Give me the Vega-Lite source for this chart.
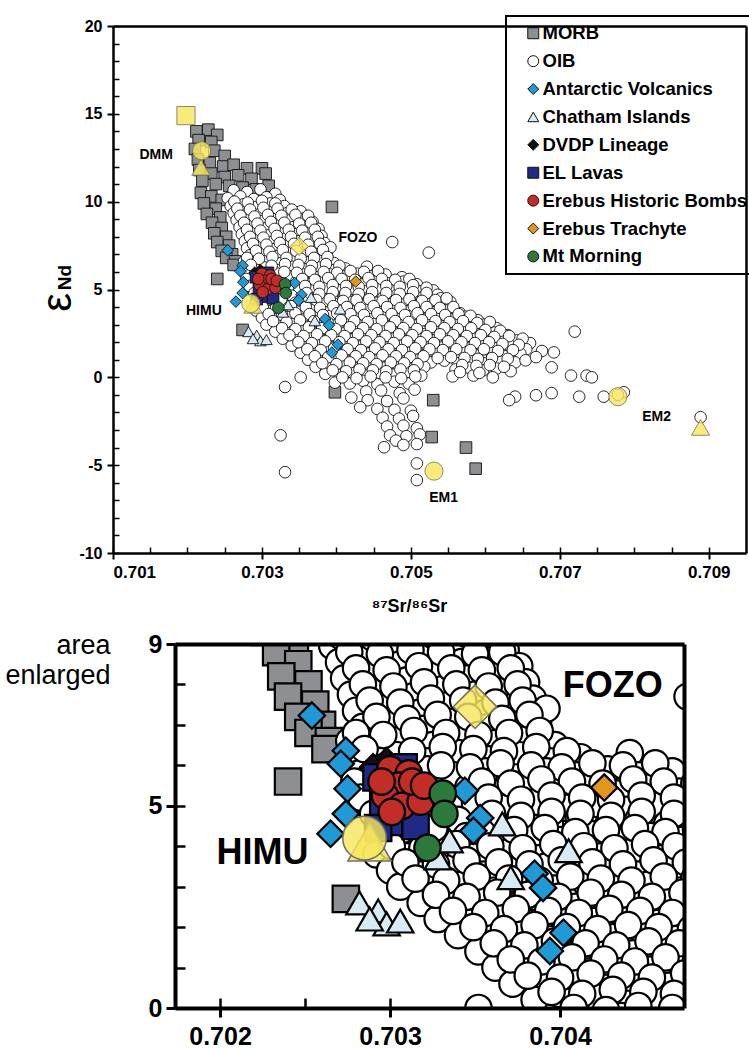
{
 "$schema": "https://vega.github.io/schema/vega-lite/v6.json",
 "background": "white",
 "padding": {"left": 4, "top": 15, "right": 0, "bottom": 5},
 "config": {
  "font": "Liberation Sans",
  "view": {"stroke": null},
  "axis": {"grid": false, "labelColor": "black", "titleColor": "black", "tickColor": "black", "domainColor": "black", "labelFont": "Liberation Sans", "titleFont": "Liberation Sans", "labelFontWeight": "bold", "titleFontWeight": "bold"},
  "legend": {"strokeWidth": 2}
 },
 "datasets": {
  "pts": [
   {"group":"MORB","sr":0.70212,"nd":14.0},{"group":"MORB","sr":0.70228,"nd":14.1},{"group":"MORB","sr":0.70240,"nd":13.8},{"group":"MORB","sr":0.70215,"nd":13.5},{"group":"MORB","sr":0.70232,"nd":13.4},{"group":"MORB","sr":0.70210,"nd":13.0},{"group":"MORB","sr":0.70236,"nd":12.9},{"group":"MORB","sr":0.70250,"nd":12.6},{"group":"MORB","sr":0.70214,"nd":12.4},{"group":"MORB","sr":0.70230,"nd":12.2},{"group":"MORB","sr":0.70248,"nd":12.0},{"group":"MORB","sr":0.70262,"nd":12.1},{"group":"MORB","sr":0.70280,"nd":11.9},{"group":"MORB","sr":0.70300,"nd":11.9},{"group":"MORB","sr":0.70216,"nd":11.8},{"group":"MORB","sr":0.70232,"nd":11.6},{"group":"MORB","sr":0.70250,"nd":11.4},{"group":"MORB","sr":0.70268,"nd":11.5},{"group":"MORB","sr":0.70286,"nd":11.3},{"group":"MORB","sr":0.70305,"nd":11.6},{"group":"MORB","sr":0.70220,"nd":11.2},{"group":"MORB","sr":0.70238,"nd":11.0},{"group":"MORB","sr":0.70256,"nd":10.9},{"group":"MORB","sr":0.70274,"nd":10.8},{"group":"MORB","sr":0.70292,"nd":10.7},{"group":"MORB","sr":0.70309,"nd":10.9},{"group":"MORB","sr":0.70218,"nd":10.5},{"group":"MORB","sr":0.70232,"nd":10.3},{"group":"MORB","sr":0.70246,"nd":10.1},{"group":"MORB","sr":0.70222,"nd":9.9},{"group":"MORB","sr":0.70238,"nd":9.6},{"group":"MORB","sr":0.70226,"nd":9.3},{"group":"MORB","sr":0.70244,"nd":9.1},{"group":"MORB","sr":0.70233,"nd":8.8},{"group":"MORB","sr":0.70246,"nd":8.5},{"group":"MORB","sr":0.70236,"nd":8.2},{"group":"MORB","sr":0.70252,"nd":8.0},{"group":"MORB","sr":0.70240,"nd":7.7},{"group":"MORB","sr":0.70256,"nd":7.5},{"group":"MORB","sr":0.70246,"nd":7.2},{"group":"MORB","sr":0.70260,"nd":7.0},{"group":"MORB","sr":0.70252,"nd":6.8},{"group":"MORB","sr":0.70264,"nd":6.6},{"group":"MORB","sr":0.70262,"nd":6.4},{"group":"MORB","sr":0.70345,"nd":9.1},{"group":"MORB","sr":0.70394,"nd":9.7},{"group":"MORB","sr":0.70387,"nd":7.1},{"group":"MORB","sr":0.70240,"nd":5.6},{"group":"MORB","sr":0.70274,"nd":2.7},{"group":"MORB","sr":0.70398,"nd":-0.85},{"group":"MORB","sr":0.70413,"nd":0.28},{"group":"MORB","sr":0.70530,"nd":-1.3},{"group":"MORB","sr":0.70528,"nd":-3.4},{"group":"MORB","sr":0.70574,"nd":-4.0},{"group":"MORB","sr":0.70587,"nd":-5.2},
   {"group":"OIB","sr":0.70262,"nd":10.65},{"group":"OIB","sr":0.70280,"nd":10.55},{"group":"OIB","sr":0.70298,"nd":10.7},{"group":"OIB","sr":0.70318,"nd":10.45},
   {"group":"OIB","sr":0.70254,"nd":10.2},{"group":"OIB","sr":0.70271,"nd":10.3},{"group":"OIB","sr":0.70289,"nd":10.15},{"group":"OIB","sr":0.70306,"nd":10.25},{"group":"OIB","sr":0.70324,"nd":10.1},
   {"group":"OIB","sr":0.70258,"nd":9.75},{"group":"OIB","sr":0.70275,"nd":9.85},{"group":"OIB","sr":0.70293,"nd":9.7},{"group":"OIB","sr":0.70311,"nd":9.9},{"group":"OIB","sr":0.70330,"nd":9.75},
   {"group":"OIB","sr":0.70262,"nd":9.35},{"group":"OIB","sr":0.70279,"nd":9.45},{"group":"OIB","sr":0.70297,"nd":9.3},{"group":"OIB","sr":0.70315,"nd":9.5},{"group":"OIB","sr":0.70334,"nd":9.35},{"group":"OIB","sr":0.70352,"nd":9.45},
   {"group":"OIB","sr":0.70266,"nd":8.95},{"group":"OIB","sr":0.70284,"nd":9.05},{"group":"OIB","sr":0.70301,"nd":8.9},{"group":"OIB","sr":0.70320,"nd":9.1},{"group":"OIB","sr":0.70338,"nd":8.95},{"group":"OIB","sr":0.70357,"nd":9.05},{"group":"OIB","sr":0.70368,"nd":8.85},
   {"group":"OIB","sr":0.70270,"nd":8.55},{"group":"OIB","sr":0.70288,"nd":8.65},{"group":"OIB","sr":0.70306,"nd":8.5},{"group":"OIB","sr":0.70324,"nd":8.7},{"group":"OIB","sr":0.70342,"nd":8.55},{"group":"OIB","sr":0.70361,"nd":8.65},{"group":"OIB","sr":0.70376,"nd":8.45},
   {"group":"OIB","sr":0.70273,"nd":8.15},{"group":"OIB","sr":0.70291,"nd":8.25},{"group":"OIB","sr":0.70310,"nd":8.1},{"group":"OIB","sr":0.70328,"nd":8.3},{"group":"OIB","sr":0.70346,"nd":8.15},{"group":"OIB","sr":0.70365,"nd":8.25},{"group":"OIB","sr":0.70380,"nd":8.05},
   {"group":"OIB","sr":0.70277,"nd":7.75},{"group":"OIB","sr":0.70295,"nd":7.85},{"group":"OIB","sr":0.70313,"nd":7.7},{"group":"OIB","sr":0.70332,"nd":7.9},{"group":"OIB","sr":0.70350,"nd":7.75},{"group":"OIB","sr":0.70368,"nd":7.85},{"group":"OIB","sr":0.70384,"nd":7.65},
   {"group":"OIB","sr":0.70280,"nd":7.35},{"group":"OIB","sr":0.70299,"nd":7.45},{"group":"OIB","sr":0.70317,"nd":7.3},{"group":"OIB","sr":0.70335,"nd":7.5},{"group":"OIB","sr":0.70356,"nd":7.3},{"group":"OIB","sr":0.70372,"nd":7.45},
   {"group":"OIB","sr":0.70284,"nd":6.95},{"group":"OIB","sr":0.70302,"nd":7.05},{"group":"OIB","sr":0.70320,"nd":6.9},{"group":"OIB","sr":0.70339,"nd":7.1},{"group":"OIB","sr":0.70358,"nd":6.95},{"group":"OIB","sr":0.70376,"nd":7.05},
   {"group":"OIB","sr":0.70276,"nd":6.6},{"group":"OIB","sr":0.70290,"nd":6.55},{"group":"OIB","sr":0.70307,"nd":6.65},{"group":"OIB","sr":0.70325,"nd":6.5},{"group":"OIB","sr":0.70344,"nd":6.7},{"group":"OIB","sr":0.70362,"nd":6.55},{"group":"OIB","sr":0.70380,"nd":6.65},{"group":"OIB","sr":0.70397,"nd":6.5},
   {"group":"OIB","sr":0.70280,"nd":6.2},{"group":"OIB","sr":0.70304,"nd":6.25},{"group":"OIB","sr":0.70322,"nd":6.1},{"group":"OIB","sr":0.70340,"nd":6.3},{"group":"OIB","sr":0.70358,"nd":6.15},{"group":"OIB","sr":0.70376,"nd":6.25},{"group":"OIB","sr":0.70394,"nd":6.1},{"group":"OIB","sr":0.70412,"nd":6.2},{"group":"OIB","sr":0.70441,"nd":6.3},
   {"group":"OIB","sr":0.70282,"nd":5.8},{"group":"OIB","sr":0.70322,"nd":5.9},{"group":"OIB","sr":0.70338,"nd":5.75},{"group":"OIB","sr":0.70356,"nd":5.85},{"group":"OIB","sr":0.70374,"nd":5.7},{"group":"OIB","sr":0.70392,"nd":5.85},{"group":"OIB","sr":0.70410,"nd":5.75},{"group":"OIB","sr":0.70428,"nd":5.9},{"group":"OIB","sr":0.70446,"nd":5.75},{"group":"OIB","sr":0.70466,"nd":5.85},{"group":"OIB","sr":0.70488,"nd":5.7},
   {"group":"OIB","sr":0.70284,"nd":5.4},{"group":"OIB","sr":0.70346,"nd":5.45},{"group":"OIB","sr":0.70362,"nd":5.3},{"group":"OIB","sr":0.70380,"nd":5.45},{"group":"OIB","sr":0.70398,"nd":5.35},{"group":"OIB","sr":0.70416,"nd":5.5},{"group":"OIB","sr":0.70434,"nd":5.3},{"group":"OIB","sr":0.70452,"nd":5.45},{"group":"OIB","sr":0.70470,"nd":5.35},{"group":"OIB","sr":0.70490,"nd":5.45},{"group":"OIB","sr":0.70508,"nd":5.3},
   {"group":"OIB","sr":0.70288,"nd":5.0},{"group":"OIB","sr":0.70350,"nd":5.05},{"group":"OIB","sr":0.70368,"nd":4.95},{"group":"OIB","sr":0.70386,"nd":5.1},{"group":"OIB","sr":0.70404,"nd":4.95},{"group":"OIB","sr":0.70421,"nd":5.05},{"group":"OIB","sr":0.70439,"nd":4.9},{"group":"OIB","sr":0.70458,"nd":5.05},{"group":"OIB","sr":0.70476,"nd":4.95},{"group":"OIB","sr":0.70494,"nd":5.1},{"group":"OIB","sr":0.70512,"nd":4.9},{"group":"OIB","sr":0.70530,"nd":4.95},
   {"group":"OIB","sr":0.70296,"nd":4.55},{"group":"OIB","sr":0.70340,"nd":4.65},{"group":"OIB","sr":0.70358,"nd":4.5},{"group":"OIB","sr":0.70376,"nd":4.65},{"group":"OIB","sr":0.70394,"nd":4.55},{"group":"OIB","sr":0.70411,"nd":4.7},{"group":"OIB","sr":0.70428,"nd":4.5},{"group":"OIB","sr":0.70446,"nd":4.65},{"group":"OIB","sr":0.70463,"nd":4.55},{"group":"OIB","sr":0.70481,"nd":4.7},{"group":"OIB","sr":0.70499,"nd":4.5},{"group":"OIB","sr":0.70517,"nd":4.6},{"group":"OIB","sr":0.70536,"nd":4.7},
   {"group":"OIB","sr":0.70298,"nd":4.2},{"group":"OIB","sr":0.70316,"nd":4.15},{"group":"OIB","sr":0.70345,"nd":4.25},{"group":"OIB","sr":0.70364,"nd":4.1},{"group":"OIB","sr":0.70382,"nd":4.25},{"group":"OIB","sr":0.70400,"nd":4.15},{"group":"OIB","sr":0.70418,"nd":4.3},{"group":"OIB","sr":0.70436,"nd":4.1},{"group":"OIB","sr":0.70453,"nd":4.25},{"group":"OIB","sr":0.70471,"nd":4.15},{"group":"OIB","sr":0.70489,"nd":4.3},{"group":"OIB","sr":0.70506,"nd":4.1},{"group":"OIB","sr":0.70524,"nd":4.2},{"group":"OIB","sr":0.70542,"nd":4.05},{"group":"OIB","sr":0.70553,"nd":4.3},
   {"group":"OIB","sr":0.70292,"nd":3.8},{"group":"OIB","sr":0.70310,"nd":3.75},{"group":"OIB","sr":0.70328,"nd":3.9},{"group":"OIB","sr":0.70350,"nd":3.75},{"group":"OIB","sr":0.70369,"nd":3.85},{"group":"OIB","sr":0.70387,"nd":3.7},{"group":"OIB","sr":0.70405,"nd":3.9},{"group":"OIB","sr":0.70424,"nd":3.75},{"group":"OIB","sr":0.70441,"nd":3.85},{"group":"OIB","sr":0.70459,"nd":3.7},{"group":"OIB","sr":0.70477,"nd":3.85},{"group":"OIB","sr":0.70495,"nd":3.75},{"group":"OIB","sr":0.70512,"nd":3.9},{"group":"OIB","sr":0.70530,"nd":3.7},{"group":"OIB","sr":0.70548,"nd":3.8},{"group":"OIB","sr":0.70566,"nd":3.65},
   {"group":"OIB","sr":0.70300,"nd":3.4},{"group":"OIB","sr":0.70318,"nd":3.35},{"group":"OIB","sr":0.70336,"nd":3.45},{"group":"OIB","sr":0.70355,"nd":3.3},{"group":"OIB","sr":0.70373,"nd":3.45},{"group":"OIB","sr":0.70392,"nd":3.5},{"group":"OIB","sr":0.70410,"nd":3.35},{"group":"OIB","sr":0.70428,"nd":3.45},{"group":"OIB","sr":0.70446,"nd":3.3},{"group":"OIB","sr":0.70465,"nd":3.45},{"group":"OIB","sr":0.70483,"nd":3.35},{"group":"OIB","sr":0.70500,"nd":3.5},{"group":"OIB","sr":0.70518,"nd":3.3},{"group":"OIB","sr":0.70537,"nd":3.4},{"group":"OIB","sr":0.70555,"nd":3.3},{"group":"OIB","sr":0.70573,"nd":3.45},{"group":"OIB","sr":0.70590,"nd":3.25},
   {"group":"OIB","sr":0.70306,"nd":3.0},{"group":"OIB","sr":0.70324,"nd":2.95},{"group":"OIB","sr":0.70342,"nd":3.05},{"group":"OIB","sr":0.70361,"nd":2.9},{"group":"OIB","sr":0.70379,"nd":3.05},{"group":"OIB","sr":0.70397,"nd":2.95},{"group":"OIB","sr":0.70415,"nd":3.1},{"group":"OIB","sr":0.70433,"nd":2.95},{"group":"OIB","sr":0.70452,"nd":3.05},{"group":"OIB","sr":0.70470,"nd":2.9},{"group":"OIB","sr":0.70488,"nd":3.05},{"group":"OIB","sr":0.70506,"nd":2.95},{"group":"OIB","sr":0.70524,"nd":3.1},{"group":"OIB","sr":0.70543,"nd":2.9},{"group":"OIB","sr":0.70561,"nd":3.0},{"group":"OIB","sr":0.70580,"nd":2.85},{"group":"OIB","sr":0.70598,"nd":3.0},{"group":"OIB","sr":0.70615,"nd":2.8},
   {"group":"OIB","sr":0.70318,"nd":2.6},{"group":"OIB","sr":0.70336,"nd":2.55},{"group":"OIB","sr":0.70354,"nd":2.65},{"group":"OIB","sr":0.70372,"nd":2.5},{"group":"OIB","sr":0.70390,"nd":2.6},{"group":"OIB","sr":0.70409,"nd":2.5},{"group":"OIB","sr":0.70427,"nd":2.65},{"group":"OIB","sr":0.70445,"nd":2.55},{"group":"OIB","sr":0.70463,"nd":2.7},{"group":"OIB","sr":0.70481,"nd":2.5},{"group":"OIB","sr":0.70499,"nd":2.6},{"group":"OIB","sr":0.70518,"nd":2.45},{"group":"OIB","sr":0.70536,"nd":2.6},{"group":"OIB","sr":0.70554,"nd":2.5},{"group":"OIB","sr":0.70572,"nd":2.65},{"group":"OIB","sr":0.70591,"nd":2.45},{"group":"OIB","sr":0.70612,"nd":2.55},{"group":"OIB","sr":0.70630,"nd":2.4},{"group":"OIB","sr":0.70720,"nd":2.6},
   {"group":"OIB","sr":0.70328,"nd":2.2},{"group":"OIB","sr":0.70346,"nd":2.15},{"group":"OIB","sr":0.70365,"nd":2.25},{"group":"OIB","sr":0.70384,"nd":2.1},{"group":"OIB","sr":0.70402,"nd":2.25},{"group":"OIB","sr":0.70420,"nd":2.15},{"group":"OIB","sr":0.70438,"nd":2.3},{"group":"OIB","sr":0.70457,"nd":2.1},{"group":"OIB","sr":0.70475,"nd":2.2},{"group":"OIB","sr":0.70493,"nd":2.05},{"group":"OIB","sr":0.70512,"nd":2.2},{"group":"OIB","sr":0.70530,"nd":2.1},{"group":"OIB","sr":0.70548,"nd":2.25},{"group":"OIB","sr":0.70566,"nd":2.05},{"group":"OIB","sr":0.70585,"nd":2.2},{"group":"OIB","sr":0.70603,"nd":2.1},{"group":"OIB","sr":0.70622,"nd":2.25},{"group":"OIB","sr":0.70642,"nd":2.1},{"group":"OIB","sr":0.70660,"nd":1.95},
   {"group":"OIB","sr":0.70340,"nd":1.8},{"group":"OIB","sr":0.70358,"nd":1.75},{"group":"OIB","sr":0.70376,"nd":1.85},{"group":"OIB","sr":0.70395,"nd":1.7},{"group":"OIB","sr":0.70413,"nd":1.85},{"group":"OIB","sr":0.70431,"nd":1.75},{"group":"OIB","sr":0.70449,"nd":1.9},{"group":"OIB","sr":0.70468,"nd":1.7},{"group":"OIB","sr":0.70486,"nd":1.8},{"group":"OIB","sr":0.70504,"nd":1.65},{"group":"OIB","sr":0.70522,"nd":1.8},{"group":"OIB","sr":0.70541,"nd":1.7},{"group":"OIB","sr":0.70559,"nd":1.85},{"group":"OIB","sr":0.70577,"nd":1.65},{"group":"OIB","sr":0.70596,"nd":1.8},{"group":"OIB","sr":0.70614,"nd":1.7},{"group":"OIB","sr":0.70633,"nd":1.8},{"group":"OIB","sr":0.70655,"nd":1.6},{"group":"OIB","sr":0.70676,"nd":1.5},
   {"group":"OIB","sr":0.70352,"nd":1.4},{"group":"OIB","sr":0.70370,"nd":1.35},{"group":"OIB","sr":0.70388,"nd":1.45},{"group":"OIB","sr":0.70406,"nd":1.3},{"group":"OIB","sr":0.70424,"nd":1.45},{"group":"OIB","sr":0.70443,"nd":1.35},{"group":"OIB","sr":0.70461,"nd":1.5},{"group":"OIB","sr":0.70479,"nd":1.3},{"group":"OIB","sr":0.70497,"nd":1.4},{"group":"OIB","sr":0.70516,"nd":1.25},{"group":"OIB","sr":0.70534,"nd":1.4},{"group":"OIB","sr":0.70552,"nd":1.3},{"group":"OIB","sr":0.70571,"nd":1.45},{"group":"OIB","sr":0.70589,"nd":1.25},{"group":"OIB","sr":0.70608,"nd":1.4},{"group":"OIB","sr":0.70626,"nd":1.2},{"group":"OIB","sr":0.70647,"nd":1.35},{"group":"OIB","sr":0.70692,"nd":1.42},
   {"group":"OIB","sr":0.70362,"nd":1.0},{"group":"OIB","sr":0.70380,"nd":0.95},{"group":"OIB","sr":0.70398,"nd":1.05},{"group":"OIB","sr":0.70417,"nd":0.9},{"group":"OIB","sr":0.70435,"nd":1.05},{"group":"OIB","sr":0.70453,"nd":0.95},{"group":"OIB","sr":0.70471,"nd":1.1},{"group":"OIB","sr":0.70490,"nd":0.9},{"group":"OIB","sr":0.70508,"nd":1.0},{"group":"OIB","sr":0.70527,"nd":0.85},{"group":"OIB","sr":0.70545,"nd":0.95},{"group":"OIB","sr":0.70563,"nd":0.8},{"group":"OIB","sr":0.70581,"nd":0.95},{"group":"OIB","sr":0.70600,"nd":0.8},{"group":"OIB","sr":0.70619,"nd":0.9},{"group":"OIB","sr":0.70640,"nd":0.85},{"group":"OIB","sr":0.70654,"nd":0.97},{"group":"OIB","sr":0.70668,"nd":1.15},
   {"group":"OIB","sr":0.70372,"nd":0.6},{"group":"OIB","sr":0.70391,"nd":0.55},{"group":"OIB","sr":0.70409,"nd":0.65},{"group":"OIB","sr":0.70427,"nd":0.5},{"group":"OIB","sr":0.70445,"nd":0.65},{"group":"OIB","sr":0.70464,"nd":0.55},{"group":"OIB","sr":0.70482,"nd":0.7},{"group":"OIB","sr":0.70500,"nd":0.5},{"group":"OIB","sr":0.70518,"nd":0.6},{"group":"OIB","sr":0.70560,"nd":0.45},{"group":"OIB","sr":0.70578,"nd":0.55},{"group":"OIB","sr":0.70597,"nd":0.4},{"group":"OIB","sr":0.70615,"nd":0.5},{"group":"OIB","sr":0.70634,"nd":0.35},{"group":"OIB","sr":0.70689,"nd":0.57},
   {"group":"OIB","sr":0.70385,"nd":0.2},{"group":"OIB","sr":0.70404,"nd":0.15},{"group":"OIB","sr":0.70422,"nd":0.25},{"group":"OIB","sr":0.70440,"nd":0.1},{"group":"OIB","sr":0.70458,"nd":0.25},{"group":"OIB","sr":0.70476,"nd":0.15},{"group":"OIB","sr":0.70495,"nd":0.3},{"group":"OIB","sr":0.70514,"nd":0.1},{"group":"OIB","sr":0.70556,"nd":0.05},{"group":"OIB","sr":0.70584,"nd":0.1},{"group":"OIB","sr":0.70610,"nd":0.0},{"group":"OIB","sr":0.70715,"nd":0.1},{"group":"OIB","sr":0.70736,"nd":0.1},{"group":"OIB","sr":0.70743,"nd":0.0},
   {"group":"OIB","sr":0.70398,"nd":-0.3},{"group":"OIB","sr":0.70418,"nd":-0.35},{"group":"OIB","sr":0.70436,"nd":-0.2},{"group":"OIB","sr":0.70455,"nd":-0.4},{"group":"OIB","sr":0.70478,"nd":-0.25},{"group":"OIB","sr":0.70497,"nd":-0.35},{"group":"OIB","sr":0.70331,"nd":-0.55},{"group":"OIB","sr":0.70352,"nd":0.0},
   {"group":"OIB","sr":0.70440,"nd":-0.8},{"group":"OIB","sr":0.70460,"nd":-0.75},{"group":"OIB","sr":0.70485,"nd":-0.9},{"group":"OIB","sr":0.70505,"nd":-0.7},{"group":"OIB","sr":0.70668,"nd":-1.02},{"group":"OIB","sr":0.70689,"nd":-0.9},{"group":"OIB","sr":0.70759,"nd":-1.1},{"group":"OIB","sr":0.70786,"nd":-0.85},{"group":"OIB","sr":0.70726,"nd":-1.1},{"group":"OIB","sr":0.70640,"nd":-1.1},
   {"group":"OIB","sr":0.70442,"nd":-1.3},{"group":"OIB","sr":0.70468,"nd":-1.35},{"group":"OIB","sr":0.70490,"nd":-1.2},{"group":"OIB","sr":0.70632,"nd":-1.3},{"group":"OIB","sr":0.70420,"nd":-1.15},
   {"group":"OIB","sr":0.70455,"nd":-1.8},{"group":"OIB","sr":0.70478,"nd":-1.85},{"group":"OIB","sr":0.70500,"nd":-1.9},{"group":"OIB","sr":0.70432,"nd":-1.7},
   {"group":"OIB","sr":0.70462,"nd":-2.3},{"group":"OIB","sr":0.70484,"nd":-2.35},{"group":"OIB","sr":0.70503,"nd":-2.2},
   {"group":"OIB","sr":0.70468,"nd":-2.8},{"group":"OIB","sr":0.70490,"nd":-2.75},{"group":"OIB","sr":0.70508,"nd":-2.9},
   {"group":"OIB","sr":0.70472,"nd":-3.3},{"group":"OIB","sr":0.70494,"nd":-3.35},{"group":"OIB","sr":0.70512,"nd":-3.25},{"group":"OIB","sr":0.70480,"nd":-3.6},
   {"group":"OIB","sr":0.70464,"nd":-3.98},{"group":"OIB","sr":0.70490,"nd":-3.85},{"group":"OIB","sr":0.70508,"nd":-3.8},
   {"group":"OIB","sr":0.70508,"nd":-4.9},{"group":"OIB","sr":0.70508,"nd":-5.85},{"group":"OIB","sr":0.70325,"nd":-3.3},{"group":"OIB","sr":0.70331,"nd":-5.4},{"group":"OIB","sr":0.70475,"nd":7.7},{"group":"OIB","sr":0.70524,"nd":7.1},{"group":"OIB","sr":0.70889,"nd":-2.27},{"group":"OIB","sr":0.70778,"nd":-1.0},
   {"group":"OIB","sr":0.70263,"nd":10.0},{"group":"OIB","sr":0.70281,"nd":9.95},{"group":"OIB","sr":0.70300,"nd":10.05},{"group":"OIB","sr":0.70318,"nd":9.9},
   {"group":"OIB","sr":0.70267,"nd":9.6},{"group":"OIB","sr":0.70284,"nd":9.55},{"group":"OIB","sr":0.70302,"nd":9.65},{"group":"OIB","sr":0.70321,"nd":9.6},{"group":"OIB","sr":0.70340,"nd":9.55},
   {"group":"OIB","sr":0.70271,"nd":9.2},{"group":"OIB","sr":0.70290,"nd":9.15},{"group":"OIB","sr":0.70308,"nd":9.25},{"group":"OIB","sr":0.70326,"nd":9.2},{"group":"OIB","sr":0.70345,"nd":9.25},{"group":"OIB","sr":0.70362,"nd":9.2},
   {"group":"OIB","sr":0.70276,"nd":8.8},{"group":"OIB","sr":0.70294,"nd":8.75},{"group":"OIB","sr":0.70312,"nd":8.85},{"group":"OIB","sr":0.70330,"nd":8.8},{"group":"OIB","sr":0.70350,"nd":8.75},{"group":"OIB","sr":0.70366,"nd":8.8},
   {"group":"OIB","sr":0.70280,"nd":8.4},{"group":"OIB","sr":0.70298,"nd":8.35},{"group":"OIB","sr":0.70317,"nd":8.45},{"group":"OIB","sr":0.70336,"nd":8.4},{"group":"OIB","sr":0.70354,"nd":8.35},{"group":"OIB","sr":0.70371,"nd":8.4},
   {"group":"OIB","sr":0.70284,"nd":8.0},{"group":"OIB","sr":0.70302,"nd":7.95},{"group":"OIB","sr":0.70320,"nd":8.05},{"group":"OIB","sr":0.70339,"nd":8.0},{"group":"OIB","sr":0.70358,"nd":7.95},{"group":"OIB","sr":0.70375,"nd":8.0},
   {"group":"OIB","sr":0.70288,"nd":7.6},{"group":"OIB","sr":0.70306,"nd":7.55},{"group":"OIB","sr":0.70324,"nd":7.65},{"group":"OIB","sr":0.70343,"nd":7.6},{"group":"OIB","sr":0.70362,"nd":7.55},{"group":"OIB","sr":0.70378,"nd":7.6},{"group":"OIB","sr":0.70392,"nd":7.4},
   {"group":"OIB","sr":0.70292,"nd":7.2},{"group":"OIB","sr":0.70310,"nd":7.15},{"group":"OIB","sr":0.70328,"nd":7.25},{"group":"OIB","sr":0.70346,"nd":7.2},{"group":"OIB","sr":0.70366,"nd":7.15},{"group":"OIB","sr":0.70382,"nd":7.25},
   {"group":"OIB","sr":0.70280,"nd":6.8},{"group":"OIB","sr":0.70296,"nd":6.75},{"group":"OIB","sr":0.70314,"nd":6.85},{"group":"OIB","sr":0.70333,"nd":6.8},{"group":"OIB","sr":0.70352,"nd":6.75},{"group":"OIB","sr":0.70370,"nd":6.8},{"group":"OIB","sr":0.70388,"nd":6.85},
   {"group":"OIB","sr":0.70285,"nd":6.4},{"group":"OIB","sr":0.70313,"nd":6.35},{"group":"OIB","sr":0.70331,"nd":6.45},{"group":"OIB","sr":0.70349,"nd":6.4},{"group":"OIB","sr":0.70367,"nd":6.35},{"group":"OIB","sr":0.70386,"nd":6.45},{"group":"OIB","sr":0.70404,"nd":6.35},
   {"group":"OIB","sr":0.70330,"nd":6.0},{"group":"OIB","sr":0.70347,"nd":5.95},{"group":"OIB","sr":0.70365,"nd":6.05},{"group":"OIB","sr":0.70383,"nd":6.0},{"group":"OIB","sr":0.70401,"nd":5.95},{"group":"OIB","sr":0.70419,"nd":6.05},{"group":"OIB","sr":0.70437,"nd":6.0},{"group":"OIB","sr":0.70456,"nd":6.05},
   {"group":"OIB","sr":0.70279,"nd":5.6},{"group":"OIB","sr":0.70354,"nd":5.6},{"group":"OIB","sr":0.70371,"nd":5.55},{"group":"OIB","sr":0.70389,"nd":5.65},{"group":"OIB","sr":0.70407,"nd":5.6},{"group":"OIB","sr":0.70425,"nd":5.55},{"group":"OIB","sr":0.70443,"nd":5.65},{"group":"OIB","sr":0.70461,"nd":5.6},{"group":"OIB","sr":0.70479,"nd":5.55},{"group":"OIB","sr":0.70498,"nd":5.6},
   {"group":"OIB","sr":0.70283,"nd":5.2},{"group":"OIB","sr":0.70358,"nd":5.2},{"group":"OIB","sr":0.70377,"nd":5.15},{"group":"OIB","sr":0.70395,"nd":5.25},{"group":"OIB","sr":0.70413,"nd":5.2},{"group":"OIB","sr":0.70430,"nd":5.15},{"group":"OIB","sr":0.70448,"nd":5.25},{"group":"OIB","sr":0.70467,"nd":5.2},{"group":"OIB","sr":0.70485,"nd":5.15},{"group":"OIB","sr":0.70503,"nd":5.25},{"group":"OIB","sr":0.70521,"nd":5.1},
   {"group":"OIB","sr":0.70290,"nd":4.8},{"group":"OIB","sr":0.70360,"nd":4.8},{"group":"OIB","sr":0.70377,"nd":4.75},{"group":"OIB","sr":0.70395,"nd":4.85},{"group":"OIB","sr":0.70412,"nd":4.8},{"group":"OIB","sr":0.70430,"nd":4.75},{"group":"OIB","sr":0.70448,"nd":4.85},{"group":"OIB","sr":0.70467,"nd":4.8},{"group":"OIB","sr":0.70485,"nd":4.75},{"group":"OIB","sr":0.70503,"nd":4.85},{"group":"OIB","sr":0.70521,"nd":4.8},{"group":"OIB","sr":0.70540,"nd":4.5},
   {"group":"OIB","sr":0.70307,"nd":4.4},{"group":"OIB","sr":0.70326,"nd":4.45},{"group":"OIB","sr":0.70354,"nd":4.35},{"group":"OIB","sr":0.70373,"nd":4.4},{"group":"OIB","sr":0.70391,"nd":4.45},{"group":"OIB","sr":0.70409,"nd":4.35},{"group":"OIB","sr":0.70427,"nd":4.4},{"group":"OIB","sr":0.70444,"nd":4.45},{"group":"OIB","sr":0.70462,"nd":4.35},{"group":"OIB","sr":0.70480,"nd":4.4},{"group":"OIB","sr":0.70498,"nd":4.45},{"group":"OIB","sr":0.70515,"nd":4.35},{"group":"OIB","sr":0.70533,"nd":4.4},{"group":"OIB","sr":0.70548,"nd":4.5},
   {"group":"OIB","sr":0.70301,"nd":4.0},{"group":"OIB","sr":0.70319,"nd":3.95},{"group":"OIB","sr":0.70339,"nd":4.05},{"group":"OIB","sr":0.70359,"nd":4.0},{"group":"OIB","sr":0.70378,"nd":3.95},{"group":"OIB","sr":0.70396,"nd":4.05},{"group":"OIB","sr":0.70414,"nd":4.0},{"group":"OIB","sr":0.70432,"nd":3.95},{"group":"OIB","sr":0.70450,"nd":4.05},{"group":"OIB","sr":0.70468,"nd":4.0},{"group":"OIB","sr":0.70486,"nd":3.95},{"group":"OIB","sr":0.70504,"nd":4.05},{"group":"OIB","sr":0.70521,"nd":4.0},{"group":"OIB","sr":0.70539,"nd":3.95},{"group":"OIB","sr":0.70557,"nd":4.0},
   {"group":"OIB","sr":0.70309,"nd":3.6},{"group":"OIB","sr":0.70327,"nd":3.55},{"group":"OIB","sr":0.70345,"nd":3.65},{"group":"OIB","sr":0.70364,"nd":3.6},{"group":"OIB","sr":0.70382,"nd":3.55},{"group":"OIB","sr":0.70401,"nd":3.65},{"group":"OIB","sr":0.70419,"nd":3.6},{"group":"OIB","sr":0.70437,"nd":3.55},{"group":"OIB","sr":0.70455,"nd":3.65},{"group":"OIB","sr":0.70474,"nd":3.6},{"group":"OIB","sr":0.70492,"nd":3.55},{"group":"OIB","sr":0.70509,"nd":3.65},{"group":"OIB","sr":0.70527,"nd":3.6},{"group":"OIB","sr":0.70546,"nd":3.55},{"group":"OIB","sr":0.70564,"nd":3.6},{"group":"OIB","sr":0.70580,"nd":3.5},
   {"group":"OIB","sr":0.70315,"nd":3.2},{"group":"OIB","sr":0.70333,"nd":3.15},{"group":"OIB","sr":0.70351,"nd":3.25},{"group":"OIB","sr":0.70370,"nd":3.2},{"group":"OIB","sr":0.70388,"nd":3.15},{"group":"OIB","sr":0.70406,"nd":3.25},{"group":"OIB","sr":0.70424,"nd":3.2},{"group":"OIB","sr":0.70442,"nd":3.15},{"group":"OIB","sr":0.70461,"nd":3.25},{"group":"OIB","sr":0.70479,"nd":3.2},{"group":"OIB","sr":0.70497,"nd":3.15},{"group":"OIB","sr":0.70515,"nd":3.25},{"group":"OIB","sr":0.70533,"nd":3.2},{"group":"OIB","sr":0.70552,"nd":3.15},{"group":"OIB","sr":0.70570,"nd":3.2},{"group":"OIB","sr":0.70589,"nd":3.1},{"group":"OIB","sr":0.70606,"nd":3.15},
   {"group":"OIB","sr":0.70327,"nd":2.8},{"group":"OIB","sr":0.70345,"nd":2.75},{"group":"OIB","sr":0.70363,"nd":2.85},{"group":"OIB","sr":0.70381,"nd":2.8},{"group":"OIB","sr":0.70399,"nd":2.75},{"group":"OIB","sr":0.70418,"nd":2.85},{"group":"OIB","sr":0.70436,"nd":2.8},{"group":"OIB","sr":0.70454,"nd":2.75},{"group":"OIB","sr":0.70472,"nd":2.85},{"group":"OIB","sr":0.70490,"nd":2.8},{"group":"OIB","sr":0.70508,"nd":2.75},{"group":"OIB","sr":0.70527,"nd":2.85},{"group":"OIB","sr":0.70545,"nd":2.8},{"group":"OIB","sr":0.70563,"nd":2.75},{"group":"OIB","sr":0.70581,"nd":2.8},{"group":"OIB","sr":0.70600,"nd":2.7},{"group":"OIB","sr":0.70620,"nd":2.65},
   {"group":"OIB","sr":0.70337,"nd":2.4},{"group":"OIB","sr":0.70356,"nd":2.35},{"group":"OIB","sr":0.70374,"nd":2.45},{"group":"OIB","sr":0.70393,"nd":2.4},{"group":"OIB","sr":0.70411,"nd":2.35},{"group":"OIB","sr":0.70429,"nd":2.45},{"group":"OIB","sr":0.70447,"nd":2.4},{"group":"OIB","sr":0.70466,"nd":2.35},{"group":"OIB","sr":0.70484,"nd":2.45},{"group":"OIB","sr":0.70502,"nd":2.4},{"group":"OIB","sr":0.70521,"nd":2.35},{"group":"OIB","sr":0.70539,"nd":2.45},{"group":"OIB","sr":0.70557,"nd":2.4},{"group":"OIB","sr":0.70575,"nd":2.35},{"group":"OIB","sr":0.70594,"nd":2.4},{"group":"OIB","sr":0.70612,"nd":2.3},{"group":"OIB","sr":0.70632,"nd":2.35},{"group":"OIB","sr":0.70650,"nd":2.2},
   {"group":"OIB","sr":0.70349,"nd":2.0},{"group":"OIB","sr":0.70367,"nd":1.95},{"group":"OIB","sr":0.70385,"nd":2.05},{"group":"OIB","sr":0.70404,"nd":2.0},{"group":"OIB","sr":0.70422,"nd":1.95},{"group":"OIB","sr":0.70440,"nd":2.05},{"group":"OIB","sr":0.70458,"nd":2.0},{"group":"OIB","sr":0.70477,"nd":1.95},{"group":"OIB","sr":0.70495,"nd":2.05},{"group":"OIB","sr":0.70513,"nd":2.0},{"group":"OIB","sr":0.70531,"nd":1.95},{"group":"OIB","sr":0.70550,"nd":2.05},{"group":"OIB","sr":0.70568,"nd":2.0},{"group":"OIB","sr":0.70586,"nd":1.95},{"group":"OIB","sr":0.70605,"nd":2.0},{"group":"OIB","sr":0.70623,"nd":1.9},{"group":"OIB","sr":0.70645,"nd":1.85},
   {"group":"OIB","sr":0.70361,"nd":1.6},{"group":"OIB","sr":0.70379,"nd":1.55},{"group":"OIB","sr":0.70397,"nd":1.65},{"group":"OIB","sr":0.70415,"nd":1.6},{"group":"OIB","sr":0.70433,"nd":1.55},{"group":"OIB","sr":0.70452,"nd":1.65},{"group":"OIB","sr":0.70470,"nd":1.6},{"group":"OIB","sr":0.70488,"nd":1.55},{"group":"OIB","sr":0.70506,"nd":1.65},{"group":"OIB","sr":0.70525,"nd":1.6},{"group":"OIB","sr":0.70543,"nd":1.55},{"group":"OIB","sr":0.70561,"nd":1.6},{"group":"OIB","sr":0.70580,"nd":1.55},{"group":"OIB","sr":0.70598,"nd":1.6},{"group":"OIB","sr":0.70617,"nd":1.5},{"group":"OIB","sr":0.70637,"nd":1.55},
   {"group":"OIB","sr":0.70371,"nd":1.2},{"group":"OIB","sr":0.70389,"nd":1.15},{"group":"OIB","sr":0.70407,"nd":1.25},{"group":"OIB","sr":0.70426,"nd":1.2},{"group":"OIB","sr":0.70444,"nd":1.15},{"group":"OIB","sr":0.70462,"nd":1.25},{"group":"OIB","sr":0.70480,"nd":1.2},{"group":"OIB","sr":0.70499,"nd":1.15},{"group":"OIB","sr":0.70517,"nd":1.2},{"group":"OIB","sr":0.70536,"nd":1.1},{"group":"OIB","sr":0.70554,"nd":1.15},{"group":"OIB","sr":0.70572,"nd":1.1},{"group":"OIB","sr":0.70590,"nd":1.05},{"group":"OIB","sr":0.70609,"nd":1.1},{"group":"OIB","sr":0.70630,"nd":1.05},
   {"group":"OIB","sr":0.70381,"nd":0.8},{"group":"OIB","sr":0.70400,"nd":0.75},{"group":"OIB","sr":0.70418,"nd":0.85},{"group":"OIB","sr":0.70436,"nd":0.8},{"group":"OIB","sr":0.70454,"nd":0.75},{"group":"OIB","sr":0.70473,"nd":0.85},{"group":"OIB","sr":0.70491,"nd":0.8},{"group":"OIB","sr":0.70509,"nd":0.75},{"group":"OIB","sr":0.70569,"nd":0.7},{"group":"OIB","sr":0.70588,"nd":0.65},{"group":"OIB","sr":0.70606,"nd":0.7},{"group":"OIB","sr":0.70625,"nd":0.6},
   {"group":"OIB","sr":0.70395,"nd":0.4},{"group":"OIB","sr":0.70413,"nd":0.35},{"group":"OIB","sr":0.70431,"nd":0.45},{"group":"OIB","sr":0.70449,"nd":0.4},{"group":"OIB","sr":0.70467,"nd":0.35},{"group":"OIB","sr":0.70486,"nd":0.45},{"group":"OIB","sr":0.70504,"nd":0.4},{"group":"OIB","sr":0.70566,"nd":0.3},{"group":"OIB","sr":0.70592,"nd":0.25},
   {"group":"OIB","sr":0.70408,"nd":0.0},{"group":"OIB","sr":0.70427,"nd":-0.05},{"group":"OIB","sr":0.70446,"nd":0.05},{"group":"OIB","sr":0.70466,"nd":0.0},{"group":"OIB","sr":0.70487,"nd":-0.05},{"group":"OIB","sr":0.70506,"nd":0.05},
   {"group":"Chatham Islands","sr":0.70366,"nd":4.55},{"group":"Chatham Islands","sr":0.70405,"nd":3.89},{"group":"Chatham Islands","sr":0.70371,"nd":3.22},{"group":"Chatham Islands","sr":0.70328,"nd":3.71},{"group":"Chatham Islands","sr":0.70335,"nd":4.13},{"group":"Chatham Islands","sr":0.70293,"nd":2.4},{"group":"Chatham Islands","sr":0.70298,"nd":2.08},{"group":"Chatham Islands","sr":0.70306,"nd":2.15},{"group":"Chatham Islands","sr":0.70282,"nd":2.6},{"group":"Chatham Islands","sr":0.70288,"nd":2.2},
   {"group":"Antarctic Volcanics","sr":0.70254,"nd":7.23},{"group":"Antarctic Volcanics","sr":0.70274,"nd":6.36},{"group":"Antarctic Volcanics","sr":0.70271,"nd":6.04},{"group":"Antarctic Volcanics","sr":0.70275,"nd":5.42},{"group":"Antarctic Volcanics","sr":0.70274,"nd":4.80},{"group":"Antarctic Volcanics","sr":0.70265,"nd":4.31},{"group":"Antarctic Volcanics","sr":0.70344,"nd":5.37},{"group":"Antarctic Volcanics","sr":0.70353,"nd":4.70},{"group":"Antarctic Volcanics","sr":0.70349,"nd":4.38},{"group":"Antarctic Volcanics","sr":0.70385,"nd":3.32},{"group":"Antarctic Volcanics","sr":0.70390,"nd":2.97},{"group":"Antarctic Volcanics","sr":0.70402,"nd":1.86},{"group":"Antarctic Volcanics","sr":0.70394,"nd":1.41},
   {"group":"DVDP Lineage","sr":0.70298,"nd":6.1},{"group":"DVDP Lineage","sr":0.70290,"nd":5.95},
   {"group":"EL Lavas","sr":0.70292,"nd":5.7},{"group":"EL Lavas","sr":0.70308,"nd":5.95},{"group":"EL Lavas","sr":0.70296,"nd":5.05},{"group":"EL Lavas","sr":0.70306,"nd":4.6},{"group":"EL Lavas","sr":0.70315,"nd":4.5},{"group":"EL Lavas","sr":0.70293,"nd":4.45},{"group":"EL Lavas","sr":0.70318,"nd":5.3},
   {"group":"Erebus Historic Bombs","sr":0.70300,"nd":5.9},{"group":"Erebus Historic Bombs","sr":0.70311,"nd":5.8},{"group":"Erebus Historic Bombs","sr":0.70305,"nd":5.5},{"group":"Erebus Historic Bombs","sr":0.70316,"nd":5.3},{"group":"Erebus Historic Bombs","sr":0.70297,"nd":5.25},{"group":"Erebus Historic Bombs","sr":0.70307,"nd":5.0},{"group":"Erebus Historic Bombs","sr":0.70318,"nd":5.1},{"group":"Erebus Historic Bombs","sr":0.70301,"nd":4.85},{"group":"Erebus Historic Bombs","sr":0.70313,"nd":5.6},{"group":"Erebus Historic Bombs","sr":0.70295,"nd":5.6},{"group":"Erebus Historic Bombs","sr":0.70320,"nd":5.5},
   {"group":"Erebus Trachyte","sr":0.70426,"nd":5.45},
   {"group":"Mt Morning","sr":0.70331,"nd":5.3},{"group":"Mt Morning","sr":0.70332,"nd":4.8},{"group":"Mt Morning","sr":0.70322,"nd":3.96}
  ],
  "em": [
   {"member":"DMM","symbol":"square","sr":0.70198,"nd":14.9},
   {"member":"DMM","symbol":"triangle","sr":0.70218,"nd":11.95},
   {"member":"DMM","symbol":"circle","sr":0.70219,"nd":12.9},
   {"member":"FOZO","symbol":"diamond","sr":0.70350,"nd":7.45},
   {"member":"HIMU","symbol":"triangle","sr":0.70288,"nd":4.1},
   {"member":"HIMU","symbol":"circle","sr":0.70285,"nd":4.2},
   {"member":"EM1","symbol":"circle","sr":0.70531,"nd":-5.34},
   {"member":"EM2","symbol":"circle","sr":0.70778,"nd":-1.1},
   {"member":"EM2","symbol":"triangle","sr":0.70889,"nd":-2.85}
  ],
  "labTop": [
   {"label":"DMM","sr":0.70158,"nd":12.67},
   {"label":"FOZO","sr":0.70429,"nd":7.95},
   {"label":"HIMU","sr":0.70222,"nd":3.8},
   {"label":"EM1","sr":0.70544,"nd":-6.88},
   {"label":"EM2","sr":0.70830,"nd":-2.27}
  ],
  "labBot": [
   {"label":"HIMU","sr":0.70225,"nd":3.84},
   {"label":"FOZO","sr":0.70431,"nd":7.97}
  ]
 },
 "spacing": 91,
 "center": true,
 "bounds": "flush",
 "resolve": {"scale": {"shape": "independent", "fill": "independent", "stroke": "independent"}, "legend": {"shape": "independent", "fill": "independent", "stroke": "independent"}},
 "vconcat": [
  {
   "width": 633, "height": 527,
   "layer": [
    {
     "data": {"name": "pts"},
     "mark": {"type": "point", "filled": true, "strokeWidth": 0.9, "size": 135, "opacity": 1},
     "encoding": {
      "x": {"field": "sr", "type": "quantitative", "scale": {"domain": [0.701, 0.7095], "nice": false, "zero": false},
            "axis": {"orient": "bottom", "values": [0.701, 0.703, 0.705, 0.707, 0.709], "format": ".3f", "tickSize": 6, "tickWidth": 2, "domainWidth": 2.5, "labelFontSize": 17, "labelPadding": 5, "title": "⁸⁷Sr/⁸⁶Sr", "titleFontSize": 18, "titleX": 296, "titleY": 44, "titleBaseline": "top", "zindex": 1}},
      "y": {"field": "nd", "type": "quantitative", "scale": {"domain": [-10, 20], "nice": false, "zero": false},
            "axis": {"orient": "left", "values": [-10, -5, 0, 5, 10, 15, 20], "tickSize": 6, "tickWidth": 2, "domainWidth": 2.5, "labelFontSize": 16, "labelPadding": 5, "labelExpr": "replace(datum.label, '−', '-')", "title": "ε", "titleFontSize": 42, "titleFontWeight": "normal", "titleAngle": 270, "titleX": -43, "titleY": 276, "titleBaseline": "alphabetic", "titleAlign": "center", "zindex": 1}},
      "shape": {"field": "group", "type": "nominal",
                "scale": {"domain": ["MORB", "OIB", "Antarctic Volcanics", "Chatham Islands", "DVDP Lineage", "EL Lavas", "Erebus Historic Bombs", "Erebus Trachyte", "Mt Morning"],
                          "range": ["square", "circle", "diamond", "triangle-up", "diamond", "square", "circle", "diamond", "circle"]},
                "legend": {"title": null, "orient": "none", "legendX": 393, "legendY": -10, "strokeColor": "black", "fillColor": "white", "padding": 8, "symbolOffset": 10, "rowPadding": 8.9, "labelFontSize": 18.5, "labelFontWeight": "bold", "labelFont": "Liberation Sans", "labelColor": "black", "symbolSize": 120, "symbolStrokeWidth": 1, "labelOffset": 0, "labelLimit": 300}},
      "fill": {"field": "group", "type": "nominal",
               "scale": {"domain": ["MORB", "OIB", "Antarctic Volcanics", "Chatham Islands", "DVDP Lineage", "EL Lavas", "Erebus Historic Bombs", "Erebus Trachyte", "Mt Morning"],
                         "range": ["#8d8f92", "#ffffff", "#1f9ad6", "#d8ebf5", "#111111", "#1f2a86", "#c22d28", "#e3961c", "#2c7a3b"]},
               "legend": {"title": null, "orient": "none", "legendX": 393, "legendY": -10, "strokeColor": "black", "fillColor": "white", "padding": 8, "symbolOffset": 10, "rowPadding": 8.9, "labelFontSize": 18.5, "labelFontWeight": "bold", "labelFont": "Liberation Sans", "labelColor": "black", "symbolSize": 120, "symbolStrokeWidth": 1, "labelOffset": 0, "labelLimit": 300}},
      "stroke": {"field": "group", "type": "nominal",
               "scale": {"domain": ["MORB", "OIB", "Antarctic Volcanics", "Chatham Islands", "DVDP Lineage", "EL Lavas", "Erebus Historic Bombs", "Erebus Trachyte", "Mt Morning"],
                         "range": ["#111111", "#111111", "#111111", "#111111", "#111111", "#111111", "#111111", "#111111", "#111111"]},
               "legend": {"title": null, "orient": "none", "legendX": 393, "legendY": -10, "strokeColor": "black", "fillColor": "white", "padding": 8, "symbolOffset": 10, "rowPadding": 8.9, "labelFontSize": 18.5, "labelFontWeight": "bold", "labelFont": "Liberation Sans", "labelColor": "black", "symbolSize": 120, "symbolStrokeWidth": 1, "labelOffset": 0, "labelLimit": 300}}
     }
    },
    {
     "data": {"name": "em"},
     "mark": {"type": "point", "filled": true, "fill": "#f7e65c", "fillOpacity": 0.82, "stroke": "#6e6e5e", "strokeWidth": 0.8, "size": 330, "opacity": 1},
     "encoding": {
      "x": {"field": "sr", "type": "quantitative",
            "axis": {"orient": "bottom", "values": [0.701, 0.7015, 0.702, 0.7025, 0.703, 0.7035, 0.704, 0.7045, 0.705, 0.7055, 0.706, 0.7065, 0.707, 0.7075, 0.708, 0.7085, 0.709], "labels": false, "domain": false, "tickSize": -6, "tickWidth": 1.5, "title": null}},
      "y": {"field": "nd", "type": "quantitative",
            "axis": {"orient": "left", "values": [-10, -9, -8, -7, -6, -5, -4, -3, -2, -1, 0, 1, 2, 3, 4, 5, 6, 7, 8, 9, 10, 11, 12, 13, 14, 15, 16, 17, 18, 19, 20], "labels": false, "domain": false, "tickSize": -6, "tickWidth": 1.5, "title": "Nd", "titleFontSize": 19, "titleAngle": 270, "titleX": -43, "titleY": 251, "titleBaseline": "alphabetic", "titleAlign": "center"}},
      "shape": {"field": "symbol", "type": "nominal", "scale": {"domain": ["square", "circle", "triangle", "diamond"], "range": ["square", "circle", "triangle-up", "diamond"]}, "legend": null}
     }
    },
    {
     "data": {"name": "labTop"},
     "mark": {"type": "text", "fontSize": 14, "fontWeight": "bold", "font": "Liberation Sans", "color": "black", "align": "center", "baseline": "middle"},
     "encoding": {
      "x": {"field": "sr", "type": "quantitative", "axis": {"orient": "top", "labels": false, "ticks": false, "domainWidth": 2.5, "title": null, "zindex": 1}},
      "y": {"field": "nd", "type": "quantitative", "axis": {"orient": "right", "labels": false, "ticks": false, "domainWidth": 2.5, "title": null, "zindex": 1}},
      "text": {"field": "label"}
     }
    }
   ],
   "resolve": {"axis": {"x": "independent", "y": "independent"}, "scale": {"shape": "independent", "fill": "independent", "stroke": "independent"}}
  },
  {
   "width": 509, "height": 364,
   "layer": [
    {
     "data": {"name": "pts"},
     "mark": {"type": "point", "filled": true, "stroke": "black", "strokeWidth": 2.2, "size": 700, "opacity": 1, "clip": true},
     "encoding": {
      "x": {"field": "sr", "type": "quantitative", "scale": {"domain": [0.701735, 0.704729], "nice": false, "zero": false},
            "axis": {"orient": "bottom", "values": [0.702, 0.703, 0.704], "format": ".3f", "tickSize": 9, "tickWidth": 3, "domainWidth": 4, "labelFontSize": 25, "labelPadding": 7, "title": null, "zindex": 1}},
      "y": {"field": "nd", "type": "quantitative", "scale": {"domain": [0, 9], "nice": false, "zero": false},
            "axis": {"orient": "left", "values": [0, 5, 9], "tickSize": 9, "tickWidth": 3, "domainWidth": 4, "labelFontSize": 25, "labelPadding": 4, "title": ["area", "enlarged"], "titleFontSize": 27, "titleFontWeight": "normal", "titleAngle": 0, "titleAlign": "right", "titleBaseline": "top", "titleX": -65, "titleY": -12, "titleLineHeight": 30, "zindex": 1}},
      "shape": {"field": "group", "type": "nominal",
                "scale": {"domain": ["MORB", "OIB", "Antarctic Volcanics", "Chatham Islands", "DVDP Lineage", "EL Lavas", "Erebus Historic Bombs", "Erebus Trachyte", "Mt Morning"],
                          "range": ["square", "circle", "diamond", "triangle-up", "diamond", "square", "circle", "diamond", "circle"]},
                "legend": null},
      "fill": {"field": "group", "type": "nominal",
               "scale": {"domain": ["MORB", "OIB", "Antarctic Volcanics", "Chatham Islands", "DVDP Lineage", "EL Lavas", "Erebus Historic Bombs", "Erebus Trachyte", "Mt Morning"],
                         "range": ["#8d8f92", "#ffffff", "#1f9ad6", "#d8ebf5", "#111111", "#1f2a86", "#c22d28", "#e3961c", "#2c7a3b"]},
               "legend": null}
     }
    },
    {
     "data": {"name": "em"},
     "mark": {"type": "point", "filled": true, "fill": "#f7e65c", "fillOpacity": 0.82, "stroke": "#6e6e5e", "strokeWidth": 1.5, "size": 1900, "opacity": 1, "clip": true},
     "encoding": {
      "x": {"field": "sr", "type": "quantitative",
            "axis": {"orient": "bottom", "values": [0.702, 0.7025, 0.703, 0.7035, 0.704, 0.7045], "labels": false, "domain": false, "tickSize": -10, "tickWidth": 2.5, "title": null}},
      "y": {"field": "nd", "type": "quantitative",
            "axis": {"orient": "left", "values": [0, 1, 2, 3, 4, 5, 6, 7, 8, 9], "labels": false, "domain": false, "tickSize": -10, "tickWidth": 2.5, "title": null}},
      "shape": {"field": "symbol", "type": "nominal", "scale": {"domain": ["square", "circle", "triangle", "diamond"], "range": ["square", "circle", "triangle-up", "diamond"]}, "legend": null}
     }
    },
    {
     "data": {"name": "labBot"},
     "mark": {"type": "text", "fontSize": 36, "fontWeight": "bold", "font": "Liberation Sans", "color": "black", "align": "center", "baseline": "middle"},
     "encoding": {
      "x": {"field": "sr", "type": "quantitative", "axis": {"orient": "top", "labels": false, "ticks": false, "domainWidth": 4, "title": null, "zindex": 1}},
      "y": {"field": "nd", "type": "quantitative", "axis": {"orient": "right", "labels": false, "ticks": false, "domainWidth": 4, "title": null, "zindex": 1}},
      "text": {"field": "label"}
     }
    }
   ],
   "resolve": {"axis": {"x": "independent", "y": "independent"}, "scale": {"shape": "independent", "fill": "independent"}}
  }
 ]
}
